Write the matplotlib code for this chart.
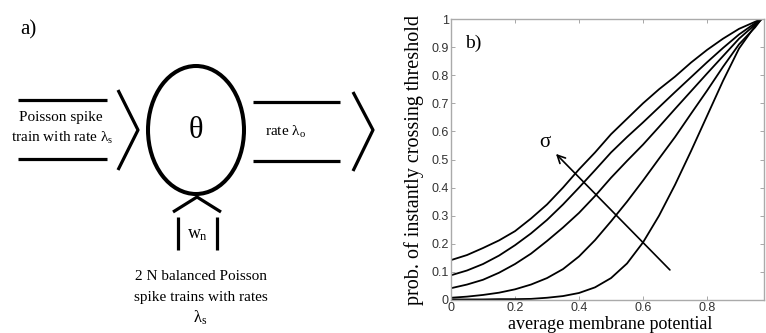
import matplotlib
matplotlib.use("Agg")
import matplotlib.pyplot as plt
from matplotlib.patches import Ellipse

SERIF = "Liberation Serif"
plt.rcParams["mathtext.fontset"] = "custom"
plt.rcParams["mathtext.rm"] = SERIF
plt.rcParams["mathtext.it"] = SERIF
plt.rcParams["mathtext.bf"] = SERIF + ":bold"

# ---- data read off panel b) ----
x_pts = [0, 0.05, 0.1, 0.15, 0.2, 0.25, 0.3, 0.35, 0.4, 0.45, 0.5,
         0.55, 0.6, 0.65, 0.7, 0.75, 0.8, 0.85, 0.9, 0.95, 0.97]
curve1 = [0.142, 0.16, 0.185, 0.212, 0.245, 0.29, 0.34, 0.40, 0.465, 0.525, 0.59,
          0.645, 0.70, 0.75, 0.795, 0.845, 0.89, 0.93, 0.965, 0.99, 1.0]
curve2 = [0.088, 0.105, 0.128, 0.158, 0.195, 0.237, 0.285, 0.34, 0.40, 0.462, 0.525,
          0.58, 0.632, 0.686, 0.74, 0.793, 0.846, 0.897, 0.945, 0.985, 1.0]
curve3 = [0.042, 0.055, 0.072, 0.097, 0.128, 0.165, 0.21, 0.258, 0.31, 0.37, 0.435,
          0.495, 0.553, 0.616, 0.68, 0.743, 0.806, 0.868, 0.93, 0.98, 1.0]
curve4 = [0.008, 0.012, 0.018, 0.026, 0.038, 0.055, 0.078, 0.11, 0.155, 0.213, 0.28,
          0.35, 0.425, 0.503, 0.58, 0.663, 0.745, 0.83, 0.91, 0.97, 1.0]
curve5 = [0.002, 0.002, 0.002, 0.003, 0.003, 0.004, 0.008, 0.014, 0.025, 0.045, 0.078,
          0.13, 0.205, 0.30, 0.41, 0.53, 0.655, 0.78, 0.895, 0.975, 1.0]
curves = [curve1, curve2, curve3, curve4, curve5]
sigma_arrow = [(0.684, 0.107), (0.328, 0.52)]
yticks = [0, 0.1, 0.2, 0.3, 0.4, 0.5, 0.6, 0.7, 0.8, 0.9, 1]
ytick_labels = ["0", "0.1", "0.2", "0.3", "0.4", "0.5", "0.6", "0.7", "0.8", "0.9", "1"]
xticks = [0, 0.2, 0.4, 0.6, 0.8]
xtick_labels = ["0", "0.2", "0.4", "0.6", "0.8"]

W, H = 766, 333
fig = plt.figure(figsize=(W / 100, H / 100), dpi=100)

# ---------- panel a: diagram in pixel coords ----------
axa = fig.add_axes([0, 0, 440 / W, 1])
axa.set_xlim(0, 440); axa.set_ylim(H, 0); axa.axis("off")
LW = 2.3
def seg(xs, ys, lw=LW):
    axa.plot(xs, ys, color="black", lw=lw, solid_capstyle="butt")

axa.add_patch(Ellipse((196, 130), 96, 128, fill=False, ec="black", lw=2.9))
axa.text(196, 131, "θ", family=SERIF, fontsize=22, ha="center", va="center")
# input channel
seg([18, 107], [100, 100]); seg([18, 107], [159, 159])
seg([118, 138, 118], [90, 130, 170])
axa.text(61, 118, "Poisson spike", family=SERIF, fontsize=11, ha="center", va="center")
axa.text(62, 138, r"train with rate $\lambda_{s}$", family=SERIF, fontsize=11, ha="center", va="center")
# output channel
seg([253, 340], [102, 102]); seg([253, 340], [161, 161])
seg([353, 373, 353], [92, 130, 171])
axa.text(285, 132, r"rate $\lambda_{o}$", family=SERIF, fontsize=11, ha="center", va="center")
# bottom channel
seg([173, 197, 221], [212, 197, 212])
seg([178, 178], [217, 250]); seg([217, 217], [217, 250])
axa.text(198, 234, r"$w_{n}$", fontsize=13, ha="center", va="center")
axa.text(201, 277, "2 N balanced Poisson", family=SERIF, fontsize=11, ha="center", va="center")
axa.text(201, 297, "spike trains with rates", family=SERIF, fontsize=11, ha="center", va="center")
axa.text(200, 318, r"$\lambda_{s}$", fontsize=12, ha="center", va="center")
axa.text(28, 30, "a)", family=SERIF, fontsize=15, ha="center", va="center")

# ---------- panel b ----------
ax = fig.add_axes([451 / W, 33 / H, 313 / W, 281 / H])
for ys in curves:
    ax.plot(x_pts, ys, color="black", lw=1.3)
ax.set_xlim(0, 0.978); ax.set_ylim(0, 1)
ax.set_xticks(xticks); ax.set_xticklabels(xtick_labels)
ax.set_yticks(yticks); ax.set_yticklabels(ytick_labels)
ax.tick_params(direction="in", length=3, width=0.6, color="#999999", labelsize=9,
               labelcolor="#333333", top=True, right=True, pad=1.5)
for t in ax.get_xticklabels() + ax.get_yticklabels():
    t.set_family("Liberation Sans")
for s in ax.spines.values():
    s.set_color("#aaaaaa"); s.set_linewidth(1.0)
ax.annotate("", xy=sigma_arrow[1], xytext=sigma_arrow[0],
            arrowprops=dict(arrowstyle="->", color="black", lw=1.2, mutation_scale=14,
                            shrinkA=0, shrinkB=0))
ax.text(0.294, 0.56, "σ", family=SERIF, fontsize=15, ha="center", va="center")
ax.text(0.07, 0.915, "b)", family=SERIF, fontsize=14, ha="center", va="center")
fig.text(414 / W, (H - 160) / H, "prob. of instantly crossing threshold", family=SERIF,
         fontsize=14.5, rotation=90, ha="center", va="center")
fig.text(610 / W, 4 / H, "average membrane potential", family=SERIF, fontsize=13,
         ha="center", va="baseline")

fig.savefig("out.png", dpi=100, facecolor="white")
